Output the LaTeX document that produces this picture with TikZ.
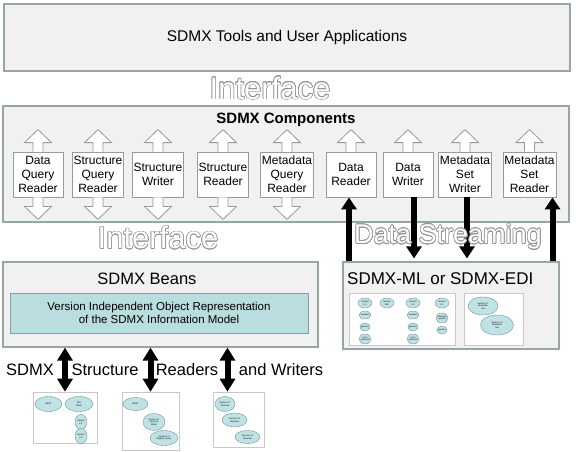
\documentclass[tikz,border=0pt]{standalone}
\usepackage{fontspec}
\setmainfont{Liberation Sans}
\usepackage{contour}
\contourlength{0.7pt}
\usetikzlibrary{arrows.meta, shapes.geometric, positioning}
\definecolor{panelgray}{RGB}{241,241,241}
\definecolor{panelline}{RGB}{150,166,166}
\definecolor{compline}{RGB}{150,155,155}
\definecolor{tealfill}{RGB}{186,221,223}
\definecolor{tealline}{RGB}{125,160,165}
\definecolor{bubblefill}{RGB}{192,226,228}
\definecolor{bubbleline}{RGB}{110,150,155}
\definecolor{thumbline}{RGB}{200,200,200}
\definecolor{ghostline}{RGB}{150,150,150}
\newcommand{\ghost}[1]{\contour{ghostline}{\textcolor{white}{#1}}}

\begin{document}
\begin{tikzpicture}[x=1pt, y=-1pt,
    panel/.style={draw=panelline, fill=panelgray, line width=1.2pt},
    comp/.style={draw=compline, fill=white, line width=0.8pt, minimum width=50, minimum height=45,
                 inner xsep=1.5pt, align=center, font=\fontsize{12}{14}\selectfont},
    hollow/.style={draw=compline, fill=white, line width=0.8pt},
    bigarrow/.style={line width=6pt, -{Triangle[width=15pt,length=12pt]}},
    bigboth/.style={line width=6pt, {Triangle[width=15pt,length=13pt]}-{Triangle[width=15pt,length=13pt]}},
    thumb/.style={draw=thumbline, fill=white, line width=0.6pt},
    bubble/.style={ellipse, draw=bubbleline, fill=bubblefill, inner sep=0pt, align=center,
                   font=\fontsize{2.2}{2.6}\selectfont},
    ghosttext/.style={font=\fontsize{31}{31}\selectfont}]
    \useasboundingbox (0,0) rectangle (576,452);

    % Top layer
    \node[panel, minimum width=566, minimum height=67, font=\fontsize{15.5}{18}\selectfont]
        (tools) at (287,37.5) {SDMX Tools and User Applications};
    \node[ghosttext] (iftop) at (270,88.5) {\ghost{Interface}};

    % Components
    \node[panel, minimum width=566, minimum height=116] (comp) at (286,164) {};
    \node[font=\bfseries\fontsize{15}{18}\selectfont] (comptitle) at (286,120) {SDMX Components};
    \foreach \n/\x/\t in {dqr/38/{Data\\Query\\Reader}, sqr/98/{Structure\\Query\\Reader},
                          sw/158/{Structure\\Writer}, sr/223/{Structure\\Reader},
                          mqr/287/{Metadata\\Query\\Reader}, dr/351/{Data\\Reader},
                          dw/408/{Data\\Writer}, msw/465/{Metadata\\Set\\Writer},
                          msr/529.5/{Metadata\\Set\\Reader}}
        \node[comp] (\n) at (\x,174.5) {\t};
    \foreach \n in {dqr,sqr,sw,sr,mqr,dr,dw,msw,msr}
        \draw[hollow] ([xshift=-5pt]\n.north) -- ++(0,-9) -- ++(-8.5,0) -- ++(13.5,-13)
                      -- ++(13.5,13) -- ++(-8.5,0) -- ++(0,9);
    \foreach \n in {dqr,sqr,sw,sr,mqr}
        \draw[hollow] ([xshift=-5pt]\n.south) -- ++(0,9) -- ++(-8.5,0) -- ++(13.5,13)
                      -- ++(13.5,-13) -- ++(-8.5,0) -- ++(0,-9);

    % Beans
    \node[panel, minimum width=315, minimum height=85] (beans) at (160.5,304.5) {};
    \node[font=\fontsize{16.5}{19}\selectfont] (beanstitle) at (147,279) {SDMX Beans};
    \node[draw=tealline, fill=tealfill, line width=0.8pt, minimum width=298, minimum height=40,
          align=center, font=\fontsize{11.5}{13}\selectfont]
        (model) at (159,313) {Version Independent Object Representation\\of the SDMX Information Model};

    % SDMX-ML / EDI
    \node[panel, minimum width=216, minimum height=87] (ml) at (451,305.5) {};
    \node[anchor=west, inner sep=0pt, font=\fontsize{17}{20}\selectfont] (mltitle) at (347,279) {SDMX-ML or SDMX-EDI};
    \node[thumb, minimum width=106, minimum height=52] (m1) at (402,319) {};
    \foreach \x/\v in {365/{1.0}, 413/{2.0}, 442/{2.1}}
        \node[bubble, minimum width=14, minimum height=10] at (\x,303) {Version\\\v};
    \node[bubble, minimum width=14, minimum height=10] (medi) at (387,303) {Version\\EDI};
    \foreach \x in {365,413} {
        \node[bubble, minimum width=10, minimum height=8] at (\x,315) {compact};
        \node[bubble, minimum width=10, minimum height=8] at (\x,327) {generic};
        \node[bubble, minimum width=10, minimum height=10] at (\x,339) {cross\\sectional};
    }
    \node[bubble, minimum width=12, minimum height=10] (mss) at (442,318) {structure\\specific};
    \node[bubble, minimum width=10, minimum height=8] (mgen) at (442,330) {generic};
    \node[thumb, minimum width=59, minimum height=52] (m2) at (493.5,319) {};
    \node[bubble, minimum width=30, minimum height=18] (meta21) at (483,306) {Version 2.1\\Metadata\\Set};
    \node[bubble, minimum width=33, minimum height=20] (meta20) at (497,325) {Version 2.0\\Metadata\\Set};

    % Streaming arrows
    \coordinate (drin) at ([xshift=-2pt]dr.south);
    \coordinate (dwout) at ([xshift=6pt]dw.south);
    \coordinate (mswout) at ([xshift=2pt]msw.south);
    \coordinate (msrin) at ([xshift=23pt]msr.south);
    \draw[bigarrow] (drin |- ml.north) -- (drin);
    \draw[bigarrow, shorten >=3pt] (dwout) -- (dwout |- ml.north);
    \draw[bigarrow, shorten >=3pt] (mswout) -- (mswout |- ml.north);
    \draw[bigarrow] (msrin |- ml.north) -- (msrin);

    \node[ghosttext] (ifmid) at (158,238) {\ghost{Interface}};
    \node[font=\fontsize{27}{27}\selectfont] (stream) at (448,237) {\ghost{Data Streaming}};

    % Structure readers and writers
    \node[thumb, minimum width=64, minimum height=51] (t1) at (65,417.5) {};
    \node[bubble, minimum width=27, minimum height=15] (rest1) at (48.5,404) {REST};
    \node[bubble, minimum width=28, minimum height=15] (edi1) at (79,404) {EDI\\Writer};
    \node[bubble, minimum width=12, minimum height=15] (v21a) at (81,422) {Version\\2.1};
    \node[bubble, minimum width=12, minimum height=15] (v20a) at (81,436) {Version\\2.0};
    \node[thumb, minimum width=57, minimum height=58] (t2) at (150.5,421) {};
    \node[bubble, minimum width=25, minimum height=13] (rest2) at (135.5,404) {REST};
    \node[bubble, minimum width=22, minimum height=17] (v21b) at (154,422) {Version 2.1\\Structure\\Writer};
    \node[bubble, minimum width=28, minimum height=15] (v20b) at (164,438) {Version 2.0\\Registry Query};
    \node[thumb, minimum width=51, minimum height=55] (t3) at (238.5,419.5) {};
    \node[bubble, minimum width=20, minimum height=15] (v21c) at (225,404) {Version 2.1\\Structure};
    \node[bubble, minimum width=25, minimum height=14] (v20c) at (234.5,420) {Version 2.0\\Structure};
    \node[bubble, minimum width=25, minimum height=13] (v10c) at (247.5,437) {Version 1.0\\Structure};

    \coordinate (t3in) at ([xshift=-11pt]t3.north);
    \draw[bigboth] (t1.north |- beans.south) -- (t1.north);
    \draw[bigboth] (t2.north |- beans.south) -- (t2.north);
    \draw[bigboth] (t3in |- beans.south) -- (t3in);

    \node[font=\fontsize{16.5}{19}\selectfont] (wsdmx) at (30,370) {SDMX};
    \node[font=\fontsize{16.5}{19}\selectfont] (wstruct) at (105,370) {Structure};
    \node[font=\fontsize{16.5}{19}\selectfont] (wread) at (187,370) {Readers};
    \node[font=\fontsize{16.5}{19}\selectfont] (wwrite) at (281,370) {and Writers};
\end{tikzpicture}
\end{document}
